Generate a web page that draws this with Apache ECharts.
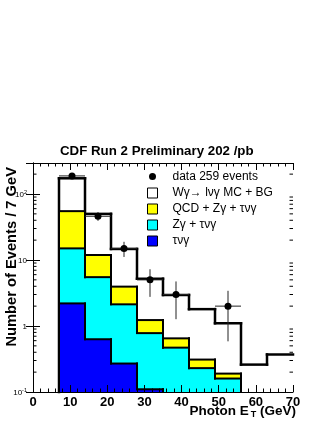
<html style="height: 100%">
<meta http-equiv=Content-Type content="text/html;charset=utf-8" />
<script type="text/javascript" src="https://cdn.jsdelivr.net/npm/echarts@6/dist/echarts.min.js"></script>

<script type="text/javascript">
	// bin lower edges (GeV), each bin is 7 GeV wide
	var binLow = [7, 14, 21, 28, 35, 42, 49, 56, 63];
	var binWidth = 7;
	// stacked MC predictions
	var totalMC  = [173, 50, 14.7, 5.2, 2.95, 1.8, 1.1, 0.26, 0.37];
	var qcdZgTau = [55, 11.9, 3.95, 1.23, 0.65, 0.31, 0.19, 0, 0];
	var zgTau    = [15, 5.5, 2.13, 0.78, 0.47, 0.23, 0.16, 0, 0];
	var tauNuG   = [2.2, 0.63, 0.27, 0.11, 0, 0, 0, 0, 0];
	// observed events per bin
	var dataCounts = [188, 46, 15, 5, 3, 0, 2, 0, 0];

	var names = ["data 259 events", "Wγ→ lνγ MC + BG", "QCD + Zγ + τνγ", "Zγ + τνγ", "τνγ"];

	var X_MAX = 70, Y_MIN = 0.1, Y_MAX = 295;
	var FONT = "Liberation Sans";

	function histData(vals) {
		var out = [];
		for (var i = 0; i < vals.length; i++) {
			var prev = i > 0 ? vals[i - 1] : 0;
			out.push([binLow[i], binLow[i] + binWidth, vals[i], prev, i == vals.length - 1 ? 1 : 0]);
		}
		return out;
	}

	function histRender(color, lw) {
		return function(params, api) {
			var lo = api.value(0), hi = api.value(1), v = api.value(2);
			var prev = api.value(3), last = api.value(4);
			var vv = Math.max(v, Y_MIN), pv = Math.max(prev, Y_MIN);
			var tl = api.coord([lo, vv]), tr = api.coord([hi, vv]);
			var br = api.coord([hi, Y_MIN]), pl = api.coord([lo, pv]);
			var line = {stroke: "#000", lineWidth: lw, lineCap: "square"};
			var kids = [];
			if (v > Y_MIN) {
				kids.push({type: "rect", z2: 1, shape: {x: tl[0], y: tl[1], width: br[0] - tl[0], height: br[1] - tl[1]}, style: {fill: color}});
				kids.push({type: "line", z2: 10, shape: {x1: tl[0], y1: tl[1], x2: tr[0], y2: tr[1]}, style: line});
			}
			if (pv != vv) {
				kids.push({type: "line", z2: 10, shape: {x1: pl[0], y1: pl[1], x2: tl[0], y2: tl[1]}, style: line});
			}
			// closing edge, not drawn on the frame itself
			if (last && v > Y_MIN && hi < X_MAX) {
				kids.push({type: "line", z2: 10, shape: {x1: tr[0], y1: tr[1], x2: br[0], y2: br[1]}, style: line});
			}
			return {type: "group", children: kids};
		};
	}

	function histSeries(name, vals, color, lw, z) {
		return {
			name: name,
			type: "custom",
			z: z,
			itemStyle: {color: color, borderColor: "#000", borderWidth: 1},
			encode: {x: [0, 1], y: 2},
			renderItem: histRender(color, lw),
			data: histData(vals)
		};
	}

	function getChart() {
		var points = [], errBars = [];
		for (var i = 0; i < dataCounts.length; i++) {
			var n = dataCounts[i];
			if (n <= 0) continue;
			var c = binLow[i] + binWidth / 2;
			points.push([c, n]);
			errBars.push([c, n, Math.sqrt(n), binLow[i], binLow[i] + binWidth]);
		}

		// log minor ticks 2..9 x 10^k
		var minor = [];
		for (var k = -1; k <= 2; k++) {
			for (var m = 2; m <= 9; m++) {
				var t = m * Math.pow(10, k);
				if (t < Y_MAX) minor.push([0, t]);
			}
		}

		var xAxisBase = {
			type: "value", min: 0, max: X_MAX, interval: 10, z: 10,
			axisLine: {lineStyle: {color: "#000", width: 1}},
			axisTick: {inside: true, length: 7, lineStyle: {color: "#000"}},
			minorTick: {show: true, splitNumber: 5, length: 3.5, lineStyle: {color: "#000"}},
			splitLine: {show: false},
			axisLabel: {color: "#000", fontSize: 13, fontWeight: "bold", fontFamily: FONT, margin: 4}
		};
		var yAxisBase = {
			type: "log", logBase: 10, min: Y_MIN, max: Y_MAX, z: 10,
			axisLine: {show: true, lineStyle: {color: "#000", width: 1}},
			axisTick: {show: true, inside: true, length: 7, lineStyle: {color: "#000"}},
			splitLine: {show: false},
			axisLabel: {
				color: "#000", fontFamily: FONT, margin: 6,
				formatter: function(v) {
					var e = Math.round(Math.log(v) / Math.LN10);
					if (Math.abs(Math.pow(10, e) - v) > 1e-6 * v) return "";
					if (e == 0) return "{n|1}";
					if (e == 1) return "{n|10}";
					return "{n|10}{s|" + e + "}";
				},
				rich: {
					n: {fontSize: 8, fontFamily: FONT, color: "#000", lineHeight: 10, verticalAlign: "bottom"},
					s: {fontSize: 5.5, fontFamily: FONT, color: "#000", lineHeight: 10, verticalAlign: "top"}
				}
			}
		};

		var myChart = echarts.init(document.getElementById("chart"), null, {renderer: "canvas"});
		myChart.setOption({
			animation: false,
			backgroundColor: "#fff",
			title: {
				text: "CDF Run 2 Preliminary 202 /pb",
				left: 60, top: 145, padding: 0,
				textStyle: {color: "#000", fontSize: 13.3, fontWeight: "bold", fontFamily: FONT}
			},
			legend: {
				orient: "vertical", left: 146, top: 170, padding: 0,
				itemWidth: 10, itemHeight: 10, itemGap: 4,
				textStyle: {color: "#000", fontSize: 12, fontFamily: FONT, lineHeight: 12},
				formatter: function(name) { return "   " + name; },
				data: [
					{name: names[0], icon: "circle", itemStyle: {color: "#000", borderColor: "#fff", borderWidth: 3}},
					{name: names[1], icon: "rect", itemStyle: {color: "#fff", borderColor: "#000", borderWidth: 1}},
					{name: names[2], icon: "rect", itemStyle: {color: "#ffff00", borderColor: "#000", borderWidth: 1}},
					{name: names[3], icon: "rect", itemStyle: {color: "#00ffff", borderColor: "#000", borderWidth: 1}},
					{name: names[4], icon: "rect", itemStyle: {color: "#0000ff", borderColor: "#000", borderWidth: 1}}
				]
			},
			grid: {left: 33, right: 34, top: 163, bottom: 31},
			xAxis: [
				echarts.util.merge({position: "bottom"}, xAxisBase, true),
				echarts.util.merge({position: "top", axisLabel: {show: false}}, xAxisBase)
			],
			yAxis: [
				echarts.util.merge({position: "left"}, yAxisBase, true),
				echarts.util.merge({position: "right", axisLabel: {show: false}}, yAxisBase)
			],
			graphic: [
				{
					type: "text", x: 12, y: 167, rotation: Math.PI / 2,
					style: {text: "Number of Events / 7 GeV", align: "right", verticalAlign: "middle",
						font: "bold 14.7px " + FONT, fill: "#000"}
				},
				{
					type: "text", x: 296, y: 411,
					style: {
						text: "Photon E{sub|T} (GeV)", align: "right", verticalAlign: "middle",
						font: "bold 13.5px " + FONT, fill: "#000",
						rich: {sub: {font: "bold 9px " + FONT, fill: "#000", padding: [8, 0, 0, 2]}}
					}
				}
			],
			series: [
				histSeries(names[1], totalMC, "#ffffff", 2.5, 2),
				histSeries(names[2], qcdZgTau, "#ffff00", 2, 3),
				histSeries(names[3], zgTau, "#00ffff", 2, 4),
				histSeries(names[4], tauNuG, "#0000ff", 2, 5),
				{
					name: "minor ticks", type: "custom", z: 10, silent: true,
					encode: {x: 0, y: 1},
					renderItem: function(params, api) {
						var l = api.coord([0, api.value(1)]), r = api.coord([X_MAX, api.value(1)]);
						var st = {stroke: "#000", lineWidth: 1};
						return {type: "group", children: [
							{type: "line", shape: {x1: l[0], y1: l[1], x2: l[0] + 3.5, y2: l[1]}, style: st},
							{type: "line", shape: {x1: r[0] - 3.5, y1: r[1], x2: r[0], y2: r[1]}, style: st}
						]};
					},
					data: minor
				},
				{
					name: "errors", type: "custom", z: 6, silent: true,
					encode: {x: 0, y: 1},
					renderItem: function(params, api) {
						var n = api.value(1), e = api.value(2);
						var top = api.coord([api.value(0), n + e]);
						var bot = api.coord([api.value(0), Math.max(n - e, Y_MIN)]);
						var l = api.coord([api.value(3), n]), r = api.coord([api.value(4), n]);
						var st = {stroke: "#222", lineWidth: 1};
						return {type: "group", children: [
							{type: "line", shape: {x1: top[0], y1: top[1], x2: bot[0], y2: bot[1]}, style: st},
							{type: "line", shape: {x1: l[0], y1: l[1], x2: r[0], y2: r[1]}, style: st}
						]};
					},
					data: errBars
				},
				{
					name: names[0], type: "scatter", z: 7,
					symbol: "circle", symbolSize: 7,
					itemStyle: {color: "#000", opacity: 1},
					data: points
				}
			]
		});
	}
</script>

<body style="height: 100%; margin: 0; background: #fff">
	<div id="chart" style="width: 327px; height: 423px"></div>
	<script type="text/javascript">getChart();</script>
</body>
</html>
